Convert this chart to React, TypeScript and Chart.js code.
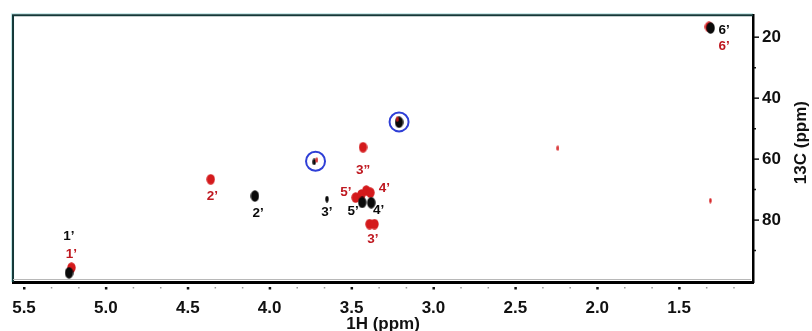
import React, { useEffect, useRef } from "react";
import { Chart, registerables } from "chart.js";

Chart.register(...registerables);

// Axis ticks
const xTickValues = [5.5, 5.0, 4.5, 4.0, 3.5, 3.0, 2.5, 2.0, 1.5];
const yTickValues = [20, 30, 40, 50, 60, 70, 80, 90];
const xTitle = "1H (ppm)";
const yTitle = "13C (ppm)";

// Red spectrum cross peaks (1H ppm, 13C ppm)
const redPeakH = [5.21, 4.36, 3.43, 3.475, 3.44, 3.41, 3.385, 3.39, 3.36, 1.318];
const redPeakC = [95.6, 66.6, 56.1, 72.6, 71.6, 70.3, 71.0, 81.3, 81.3, 16.6];
const redMinorH = [3.712, 1.31, 2.24, 3.222];
const redMinorC = [60.3, 73.6, 56.4, 46.9];

// Black spectrum cross peaks
const blackPeakH = [5.225, 4.09, 3.435, 3.38, 1.308, 3.21];
const blackPeakC = [97.3, 72.1, 74.2, 74.3, 17.0, 47.9];
const blackMinorH = [3.65, 3.728];
const blackMinorC = [73.1, 60.9];

// Circled peaks
const circledH = [3.72, 3.21];
const circledC = [60.7, 47.8];

// Peak labels
const blackLabelText = ["1’", "2’", "3’", "5’", "4’", "6’"];
const blackLabelH = [5.226, 4.07, 3.65, 3.49, 3.335, 1.225];
const blackLabelC = [85.2, 77.7, 77.4, 77.0, 76.8, 17.8];
const redLabelText = ["1’", "2’", "3”", "5’", "4’", "3’", "6’"];
const redLabelH = [5.21, 4.35, 3.43, 3.535, 3.30, 3.37, 1.225];
const redLabelC = [91.1, 72.1, 63.6, 71.0, 69.4, 86.2, 23.1];

const RED = "#d41a1c";
const RED_TEXT = "#bf1820";
const BLACK = "#0a0a0a";
const BLUE = "#2f3fd6";
const FONT = '"Liberation Sans", Arial, sans-serif';

function ellipseImage(color: string, w: number, h: number): HTMLCanvasElement {
  const c = document.createElement("canvas");
  c.width = w;
  c.height = h;
  const g = c.getContext("2d")!;
  g.fillStyle = color;
  g.beginPath();
  g.ellipse(w / 2, h / 2, w / 2 - 0.3, h / 2 - 0.3, 0, 0, Math.PI * 2);
  g.fill();
  return c;
}

function pts(h: number[], c: number[]) {
  return h.map((v, i) => ({ x: v, y: c[i] }));
}

const decorPlugin = {
  id: "decor",
  beforeDatasetsDraw(chart: any) {
    const { ctx, chartArea } = chart;
    const { left, top, right, bottom } = chartArea;
    ctx.save();
    ctx.strokeStyle = "#bfe6e6";
    ctx.lineWidth = 1;
    ctx.beginPath();
    ctx.moveTo(left - 1.5, bottom);
    ctx.lineTo(left - 1.5, top - 1.5);
    ctx.lineTo(right, top - 1.5);
    ctx.stroke();
    ctx.strokeStyle = "#143838";
    ctx.lineWidth = 2;
    ctx.beginPath();
    ctx.moveTo(left, bottom);
    ctx.lineTo(left, top);
    ctx.lineTo(right, top);
    ctx.stroke();
    ctx.strokeStyle = "#b8b8b8";
    ctx.lineWidth = 1;
    ctx.beginPath();
    ctx.moveTo(left, bottom - 2.5);
    ctx.lineTo(right - 2, bottom - 2.5);
    ctx.stroke();
    ctx.restore();
  },
  afterDraw(chart: any) {
    const { ctx, chartArea, scales } = chart;
    const { right, bottom, top } = chartArea;
    ctx.save();
    ctx.fillStyle = "#111";
    for (const v of xTickValues) {
      const px = scales.x.getPixelForValue(v);
      ctx.fillRect(px - 1, bottom + 5, 2.5, 2.5);
    }
    ctx.fillStyle = "#999";
    for (let k = 0; k < xTickValues.length; k++) {
      const a = xTickValues[k];
      for (const f of [1 / 3, 2 / 3]) {
        const v = a - 0.5 * f;
        if (v < scales.x.min) continue;
        const px = scales.x.getPixelForValue(v);
        ctx.fillRect(px - 0.5, bottom + 5, 1.5, 1.5);
      }
    }
    ctx.strokeStyle = "#111";
    ctx.lineWidth = 1.5;
    for (const v of yTickValues) {
      const py = scales.y.getPixelForValue(v);
      const len = v % 20 === 0 ? 5 : 2;
      ctx.beginPath();
      ctx.moveTo(right + 1, py);
      ctx.lineTo(right + 1 + len, py);
      ctx.stroke();
    }
    ctx.fillStyle = "#111";
    ctx.font = `bold 17px ${FONT}`;
    ctx.textAlign = "center";
    ctx.textBaseline = "middle";
    ctx.translate(chart.width - 11, (top + bottom) / 2 - 6);
    ctx.rotate(-Math.PI / 2);
    ctx.fillText(yTitle, 0, 0);
    ctx.restore();
  },
  afterDatasetsDraw(chart: any) {
    const { ctx, scales } = chart;
    ctx.save();
    ctx.font = 'bold 13.5px "Liberation Sans Narrow", "Liberation Sans", Arial, sans-serif';
    ctx.textAlign = "center";
    ctx.textBaseline = "middle";
    ctx.fillStyle = BLACK;
    blackLabelText.forEach((t, i) => {
      ctx.fillText(t, scales.x.getPixelForValue(blackLabelH[i]), scales.y.getPixelForValue(blackLabelC[i]));
    });
    ctx.fillStyle = RED_TEXT;
    redLabelText.forEach((t, i) => {
      ctx.fillText(t, scales.x.getPixelForValue(redLabelH[i]), scales.y.getPixelForValue(redLabelC[i]));
    });
    ctx.restore();
  },
};

export default function App() {
  const ref = useRef<HTMLCanvasElement | null>(null);
  useEffect(() => {
    if (!ref.current) return;
    const redBig = ellipseImage(RED, 9, 11);
    const redSmall = ellipseImage(RED, 3, 6);
    const blackBig = ellipseImage(BLACK, 9, 12);
    const blackSmall = ellipseImage(BLACK, 4, 7);
    const chart = new Chart(ref.current, {
      type: "scatter",
      data: {
        datasets: [
          {
            label: "circled",
            data: pts(circledH, circledC),
            pointStyle: "circle",
            pointRadius: 9.5,
            backgroundColor: "rgba(0,0,0,0)",
            borderColor: BLUE,
            pointBorderWidth: 2,
            order: 0,
          },
          { label: "black minor", data: pts(blackMinorH, blackMinorC), pointStyle: blackSmall as any, order: 2 },
          { label: "red minor", data: pts(redMinorH, redMinorC), pointStyle: redSmall as any, order: 1 },
          { label: "black", data: pts(blackPeakH, blackPeakC), pointStyle: blackBig as any, order: 3 },
          { label: "red", data: pts(redPeakH, redPeakC), pointStyle: redBig as any, order: 4 },
        ],
      },
      options: {
        animation: false,
        responsive: false,
        maintainAspectRatio: false,
        events: [],
        layout: { padding: { left: 12, top: 15, right: 0, bottom: 0 } },
        plugins: { legend: { display: false }, tooltip: { enabled: false } },
        scales: {
          x: {
            type: "linear",
            reverse: true,
            min: 1.049,
            max: 5.567,
            afterBuildTicks: (s: any) => {
              s.ticks = xTickValues.map((v) => ({ value: v }));
            },
            afterFit: (s: any) => {
              s.height = 49;
            },
            grid: { display: true, drawOnChartArea: false, drawTicks: true, tickLength: 4, color: "rgba(0,0,0,0)" },
            border: { display: true, color: "#000", width: 3 },
            ticks: {
              color: "#111",
              padding: 12,
              font: { family: FONT, size: 17, weight: "bold" },
              callback: (v: any) => Number(v).toFixed(1),
              maxRotation: 0,
            },
            title: {
              display: true,
              text: xTitle,
              color: "#111",
              padding: { top: 0, bottom: -4 },
              font: { family: FONT, size: 17, weight: "bold" },
            },
          },
          y: {
            type: "linear",
            position: "right",
            reverse: true,
            min: 12.79,
            max: 100.3,
            afterBuildTicks: (s: any) => {
              s.ticks = yTickValues.map((v) => ({ value: v }));
            },
            afterFit: (s: any) => {
              s.width = 59;
            },
            grid: { display: true, drawOnChartArea: false, drawTicks: true, tickLength: 4, color: "rgba(0,0,0,0)" },
            border: { display: true, color: "#000", width: 2.5 },
            ticks: {
              color: "#111",
              padding: 5,
              font: { family: FONT, size: 17, weight: "bold" },
              callback: (v: any) => (Number(v) % 20 === 0 ? String(v) : ""),
            },
            title: { display: false },
          },
        },
      },
      plugins: [decorPlugin],
    } as any);
    return () => chart.destroy();
  }, []);
  return (
    <div style={{ position: "fixed", left: 0, top: 0, width: 812, height: 331, background: "#fff" }}>
      <canvas ref={ref} width={812} height={331} style={{ display: "block", width: 812, height: 331 }} />
    </div>
  );
}
